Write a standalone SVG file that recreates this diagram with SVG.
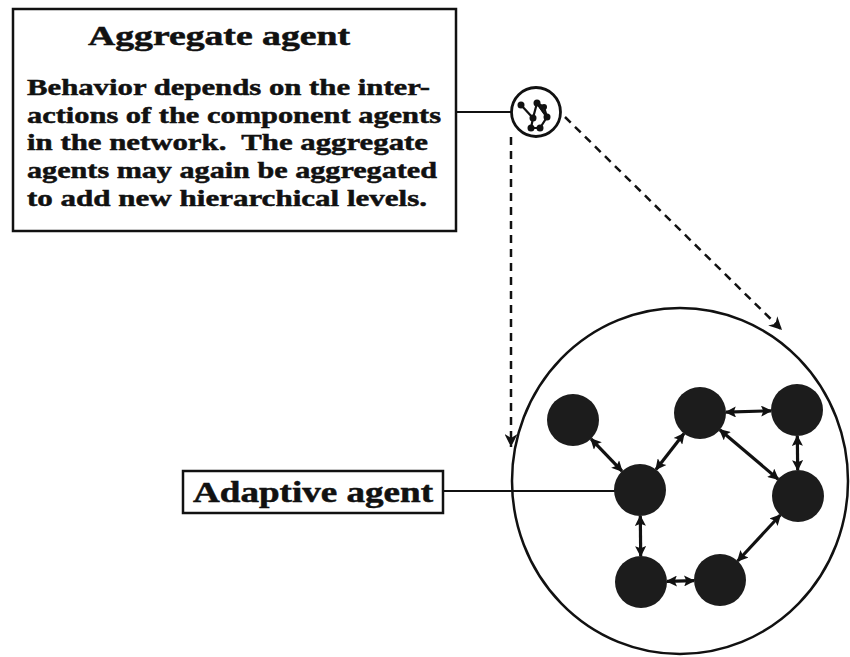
<svg xmlns="http://www.w3.org/2000/svg" width="850" height="657" viewBox="0 0 850 657">
<defs>
<style>
.t{font-family:"Liberation Serif","DejaVu Serif",serif;font-weight:bold;fill:#111;stroke:#111;stroke-width:0.5}
.box{fill:#fff;stroke:#111;stroke-width:2.5}
.ln{stroke:#111;stroke-width:2;fill:none}
.dash{stroke:#111;stroke-width:2.5;fill:none;stroke-dasharray:8,6}
.edge{stroke:#111;stroke-width:3.2;fill:none;marker-start:url(#ah);marker-end:url(#ah)}
.node{fill:#1c1c1c}
.mini{stroke:#111;stroke-width:2.2;fill:none}
</style>
<marker id="ah" viewBox="0 0 10 10" refX="9" refY="5" markerUnits="userSpaceOnUse" markerWidth="12" markerHeight="11" orient="auto-start-reverse">
<path d="M0,0 L10,5 L0,10 L2,5 z" fill="#111"/>
</marker>
<marker id="dh" viewBox="0 0 10 10" refX="10" refY="5" markerUnits="userSpaceOnUse" markerWidth="16" markerHeight="13" orient="auto">
<path d="M0,0 L10,5 L0,10 L3,5 z" fill="#111"/>
</marker>
</defs>

<g id="connectors">
<line class="ln" x1="456" y1="112" x2="512" y2="112"/>
<line class="dash" x1="511" y1="137" x2="511" y2="447" marker-end="url(#dh)"/>
<line class="dash" x1="565" y1="117" x2="782" y2="330" marker-end="url(#dh)"/>
<line class="ln" x1="443" y1="491" x2="615" y2="491"/>
<line class="edge" x1="591" y1="438.8" x2="622" y2="471.2"/>
<line class="edge" x1="656" y1="469.5" x2="684" y2="433.5"/>
<line class="edge" x1="726" y1="412.2" x2="771" y2="410.8"/>
<line class="edge" x1="719.8" y1="429.8" x2="778.2" y2="479.2"/>
<line class="edge" x1="797.3" y1="436" x2="797.7" y2="470"/>
<line class="edge" x1="780.3" y1="515" x2="737.7" y2="561"/>
<line class="edge" x1="640.3" y1="516" x2="640.7" y2="556"/>
<line class="edge" x1="667" y1="581.3" x2="694" y2="580.7"/>
</g>

<g id="aggregate-box">
<rect class="box" x="13" y="9" width="443" height="222"/>
<text class="t" x="219" y="45" font-size="27" text-anchor="middle" textLength="262" lengthAdjust="spacingAndGlyphs">Aggregate agent</text>
<text class="t" x="27" y="95" font-size="24" textLength="403" lengthAdjust="spacingAndGlyphs">Behavior depends on the inter-</text>
<text class="t" x="27" y="123" font-size="24" textLength="414" lengthAdjust="spacingAndGlyphs">actions of the component agents</text>
<text class="t" x="27" y="150" font-size="24" textLength="401" lengthAdjust="spacingAndGlyphs" xml:space="preserve">in the network.  The aggregate</text>
<text class="t" x="27" y="178" font-size="24" textLength="410" lengthAdjust="spacingAndGlyphs">agents may again be aggregated</text>
<text class="t" x="27" y="206" font-size="24" textLength="400" lengthAdjust="spacingAndGlyphs">to add new hierarchical levels.</text>
</g>

<g id="mini-aggregate">
<circle cx="536" cy="112" r="24.5" fill="#fff" stroke="#111" stroke-width="2.8"/>
<polyline class="mini" points="521,105 533,118 537,103 547,117 540,128 531,128 533,118"/>
<line class="mini" x1="537" y1="103" x2="544" y2="107"/>
<line class="mini" x1="544" y1="107" x2="547" y2="117"/>
<line class="mini" x1="537" y1="103" x2="547" y2="117"/>
<circle cx="521" cy="105" r="3.5" fill="#111"/>
<circle cx="537" cy="103" r="3.5" fill="#111"/>
<circle cx="544" cy="107" r="3" fill="#111"/>
<circle cx="533" cy="118" r="3.5" fill="#111"/>
<circle cx="547" cy="117" r="3.5" fill="#111"/>
<circle cx="531" cy="128" r="3.5" fill="#111"/>
<circle cx="540" cy="128" r="3.5" fill="#111"/>
</g>

<g id="big-aggregate">
<ellipse cx="680" cy="481" rx="168" ry="173" fill="none" stroke="#111" stroke-width="2.5"/>
</g>

<g id="agent-a"><circle class="node" cx="573" cy="420" r="26"/></g>
<g id="agent-b"><circle class="node" cx="700" cy="413" r="26"/></g>
<g id="agent-c"><circle class="node" cx="797" cy="410" r="26"/></g>
<g id="agent-d"><circle class="node" cx="640" cy="490" r="26"/></g>
<g id="agent-e"><circle class="node" cx="798" cy="496" r="26"/></g>
<g id="agent-f"><circle class="node" cx="641" cy="582" r="26"/></g>
<g id="agent-g"><circle class="node" cx="720" cy="580" r="26"/></g>

<g id="adaptive-box">
<rect class="box" x="183" y="471" width="260" height="42"/>
<text class="t" x="313" y="502" font-size="29" text-anchor="middle" textLength="240" lengthAdjust="spacingAndGlyphs">Adaptive agent</text>
</g>
</svg>
